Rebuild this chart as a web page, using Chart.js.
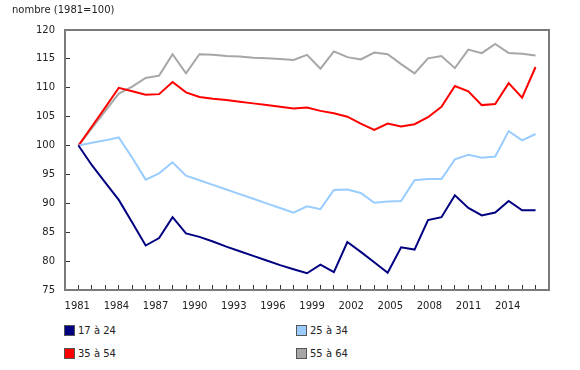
<!DOCTYPE html>
<html>
<head>
<meta charset="utf-8">
<script src="https://cdn.jsdelivr.net/npm/chart.js@4.4.1/dist/chart.umd.min.js"></script>
<style>
  body { margin:0; background:#fff; font-family:"DejaVu Sans", Verdana, sans-serif; }
  canvas { position:absolute; left:0; top:0; }
  .txt { position:absolute; font-size:10px; color:#222; }
  .lg { position:absolute; height:13px; font-size:10px; color:#222; display:flex; align-items:center; }
  .lg i { width:9px; height:9px; border:1px solid #555; margin-right:3px; display:inline-block; }
</style>
</head>
<body>
<canvas id="c" width="580" height="320"></canvas>
<div class="txt" style="left:12px;top:4px">nombre (1981=100)</div>
<div class="lg" style="left:64px;top:324px"><i style="background:#000080"></i>17 à 24</div>
<div class="lg" style="left:296px;top:324px"><i style="background:#99ccff"></i>25 à 34</div>
<div class="lg" style="left:64px;top:347px"><i style="background:#ff0000"></i>35 à 54</div>
<div class="lg" style="left:296px;top:347px"><i style="background:#a6a6a6"></i>55 à 64</div>
<script>
const yearList = [1981,1982,1983,1984,1985,1986,1987,1988,1989,1990,
  1991,1992,1993,1994,1995,1996,1997,1998,1999,2000,
  2001,2002,2003,2004,2005,2006,2007,2008,2009,2010,
  2011,2012,2013,2014,2015]
const labelYearList = [1981,1984,1987,1990,1993,1996,1999,2002,2005,2008,2011,2014]
const yTickList = [75,80,85,90,95,100,105,110,115,120]

const age1724 = [100,96.6,93.6,90.6,86.7,82.7,84.0,87.6,84.8,84.2,
  83.4,82.5,81.7,80.9,80.1,79.3,78.6,77.9,79.4,78.1,
  83.3,81.6,79.8,78.0,82.4,82.0,87.1,87.6,91.4,89.2,
  87.9,88.4,90.4,88.8,88.8]
const age2534 = [100,100.5,100.9,101.4,97.9,94.1,95.2,97.1,94.8,94.0,
  93.2,92.4,91.6,90.8,90.0,89.2,88.4,89.5,89.0,92.3,
  92.4,91.8,90.1,90.3,90.4,94.0,94.2,94.2,97.6,98.4,
  97.9,98.1,102.5,100.9,102.0]
const age3554 = [100,103.3,106.6,110.0,109.4,108.8,108.9,111.0,109.2,108.4,
  108.1,107.9,107.6,107.3,107.0,106.7,106.4,106.6,106.0,105.6,
  105.0,103.8,102.7,103.8,103.3,103.7,104.9,106.7,110.3,109.4,
  107.0,107.2,110.8,108.3,113.6]
const age5564 = [100,103.0,106.0,109.0,110.2,111.7,112.1,115.8,112.5,115.8,
  115.7,115.5,115.4,115.2,115.1,115.0,114.8,115.7,113.3,116.3,
  115.3,114.9,116.1,115.8,114.1,112.5,115.1,115.5,113.4,116.6,
  116.0,117.6,116.0,115.9,115.6]

const seriesList = [
  { label:'17 à 24', data:age1724, color:'#000080' },
  { label:'25 à 34', data:age2534, color:'#99ccff' },
  { label:'35 à 54', data:age3554, color:'#ff0000' },
  { label:'55 à 64', data:age5564, color:'#a6a6a6' },
]

const tickFont = { family:'"DejaVu Sans", Verdana, sans-serif', size:10 }
const frameBorder = { display:true, color:'#7a7a7a', width:2 }
// short tick marks pointing into the plot, no grid lines across it
const inTicks = { display:true, drawOnChartArea:false, drawTicks:true, tickLength:-5, tickColor:'#333', tickWidth:1 }
const noGrid = { display:false, drawTicks:false }

new Chart(document.getElementById('c'), {
  type:'line',
  data:{ datasets: seriesList.map(s => ({
    label:s.label,
    data:yearList.map((yr, i) => ({ x:yr, y:s.data[i] })),
    borderColor:s.color, backgroundColor:s.color,
    borderWidth:2, pointRadius:0, tension:0,
    xAxisID:'x', yAxisID:'y'
  })) },
  options:{
    responsive:false, animation:false,
    layout:{ padding:0 },
    plugins:{ legend:{ display:false }, tooltip:{ enabled:false } },
    scales:{
      // data axis: one inward tick per year, bottom frame line
      x:{ type:'linear', position:'bottom', min:1980, max:2016, weight:0,
        grid:inTicks, border:frameBorder,
        ticks:{ display:false, autoSkip:false },
        afterBuildTicks:s => { s.ticks = yearList.map(v => ({ value:v })) },
        afterFit:s => { s.height = 0 } },
      // label axis: every third year
      xl:{ type:'linear', position:'bottom', min:1980.06, max:2017.17, weight:1,
        grid:noGrid, border:{ display:false },
        ticks:{ color:'#222', font:tickFont, padding:10, maxRotation:0, autoSkip:false, callback:v => String(v) },
        afterBuildTicks:s => { s.ticks = labelYearList.map(v => ({ value:v })) },
        afterFit:s => { s.height = 30 } },
      xt:{ type:'linear', position:'top', min:1980, max:2016,
        grid:noGrid, border:frameBorder, ticks:{ display:false },
        afterFit:s => { s.height = 30 } },
      y:{ min:75, max:120,
        grid:inTicks, border:frameBorder,
        ticks:{ color:'#222', font:tickFont, padding:15 },
        afterBuildTicks:s => { s.ticks = yTickList.map(v => ({ value:v })) },
        afterFit:s => { s.width = 65 } },
      y2:{ position:'right', min:75, max:120,
        grid:noGrid, border:frameBorder, ticks:{ display:false },
        afterFit:s => { s.width = 31 } }
    }
  }
})
</script>
</body>
</html>
